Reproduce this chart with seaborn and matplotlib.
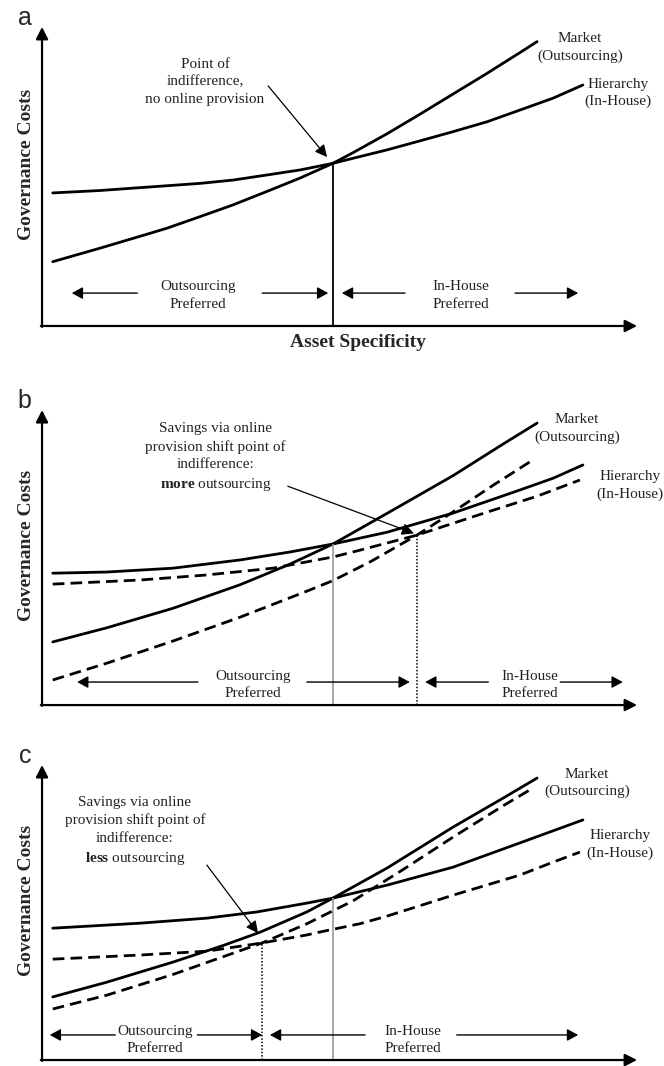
import numpy as np
import pandas as pd
import seaborn as sns
import matplotlib.pyplot as plt

sns.set_style("white")
plt.rcParams['font.family'] = ['Liberation Serif', 'DejaVu Serif']
plt.rcParams['mathtext.fontset'] = 'custom'
plt.rcParams['mathtext.rm'] = 'Liberation Serif'
plt.rcParams['mathtext.bf'] = 'Liberation Serif:bold'

# curve points (x = asset specificity, y = governance costs, 0-10 scale)
a_hier_x = [0.18, 0.97, 1.53, 2.10, 2.66, 3.21, 3.78, 4.34, 4.89, 5.23, 5.80, 6.35, 6.91, 7.48, 8.03, 8.59, 9.09]
a_hier_y = [4.45, 4.53, 4.61, 4.69, 4.77, 4.88, 5.05, 5.22, 5.44, 5.61, 5.89, 6.19, 6.50, 6.83, 7.22, 7.62, 8.06]
a_mkt_x = [0.18, 0.97, 1.53, 2.10, 2.66, 3.21, 3.78, 4.34, 4.89, 5.23, 5.80, 6.35, 6.91, 7.48, 7.75, 8.03, 8.32]
a_mkt_y = [2.15, 2.60, 2.93, 3.27, 3.66, 4.05, 4.50, 4.95, 5.44, 5.80, 6.43, 7.08, 7.76, 8.45, 8.79, 9.14, 9.51]

b_hier_x = [0.18, 1.09, 2.20, 3.33, 4.17, 4.89, 5.80, 6.91, 8.03, 8.59, 9.09]
b_hier_y = [4.47, 4.51, 4.64, 4.92, 5.19, 5.46, 5.86, 6.51, 7.29, 7.69, 8.14]
b_mkt_x = [0.18, 1.09, 2.20, 3.33, 4.17, 4.89, 5.80, 6.91, 7.75, 8.32]
b_mkt_y = [2.14, 2.62, 3.28, 4.08, 4.78, 5.46, 6.50, 7.78, 8.85, 9.56]
b_hier_on_x = [0.18, 1.65, 2.77, 3.88, 4.89, 5.34, 6.30, 7.48, 8.32, 9.04]
b_hier_on_y = [4.10, 4.24, 4.41, 4.64, 5.02, 5.25, 5.76, 6.54, 7.08, 7.63]
b_mkt_on_x = [0.18, 1.09, 2.20, 3.33, 4.45, 4.89, 5.51, 6.30, 6.91, 7.58, 8.25]
b_mkt_on_y = [0.85, 1.42, 2.17, 2.98, 3.86, 4.22, 4.85, 5.76, 6.55, 7.45, 8.31]

c_hier_x = [0.18, 1.65, 2.77, 3.61, 4.45, 4.89, 5.80, 6.91, 8.03, 9.09]
c_hier_y = [4.47, 4.64, 4.81, 5.02, 5.32, 5.49, 5.93, 6.54, 7.36, 8.14]
c_mkt_x = [0.18, 1.09, 2.20, 3.04, 3.66, 4.45, 4.89, 5.80, 6.91, 7.75, 8.32]
c_mkt_y = [2.14, 2.64, 3.32, 3.88, 4.33, 5.02, 5.49, 6.51, 7.90, 8.88, 9.56]
c_hier_on_x = [0.18, 1.65, 2.77, 3.70, 4.45, 4.67, 5.34, 5.80, 6.91, 8.03, 8.59, 9.04]
c_hier_on_y = [3.42, 3.56, 3.69, 3.97, 4.24, 4.34, 4.62, 4.88, 5.59, 6.27, 6.71, 7.05]
c_mkt_on_x = [0.18, 1.09, 2.20, 3.11, 3.70, 4.45, 5.23, 6.07, 6.91, 7.75, 8.25]
c_mkt_on_y = [1.73, 2.20, 2.90, 3.55, 3.97, 4.62, 5.40, 6.46, 7.56, 8.62, 9.22]

# indifference points (x, y)
a_point = (4.89, 5.44)
b_base = (4.89, 5.46)
b_point = (6.30, 5.76)
c_base = (4.89, 5.49)
c_point = (3.70, 3.97)

y_label = "Governance Costs"
x_label = "Asset Specificity"
market_label = "Market\n(Outsourcing)"
hier_label = "Hierarchy\n(In-House)"
out_label = "Outsourcing\nPreferred"
in_label = "In-House\nPreferred"
a_note = "Point of\nindifference,\nno online provision"
b_note = "Savings via online\nprovision shift point of\nindifference:\n$\\mathbf{more}$ outsourcing"
c_note = "Savings via online\nprovision shift point of\nindifference:\n$\\mathbf{less}$ outsourcing"

txt_color = '#222222'
fs = 11
ls = 1.42

fig = plt.figure(figsize=(6.64, 10.66), dpi=100)
ax_a = fig.add_axes([0.0633, 0.6942, 0.8961, 0.2805])
ax_b = fig.add_axes([0.0633, 0.3386, 0.8961, 0.2767])
ax_c = fig.add_axes([0.0633, 0.0056, 0.8961, 0.2767])


def draw_curves(ax, curves):
    frames = []
    for name, xs, ys, kind in curves:
        frames.append(pd.DataFrame({'x': xs, 'y': ys, 'curve': name, 'kind': kind}))
    df = pd.concat(frames, ignore_index=True)
    sns.lineplot(data=df, x='x', y='y', units='curve', style='kind', estimator=None,
                 sort=False, color='black', linewidth=2,
                 dashes={'current': '', 'online': (4.2, 2.2)}, legend=False, ax=ax)


def setup(ax, letter):
    ax.set_xlim(0, 10)
    ax.set_ylim(0, 10)
    ax.axis('off')
    axis_arrow = dict(arrowstyle='-|>,head_length=0.55,head_width=0.28', lw=1.6,
                      color='black', shrinkA=0, shrinkB=0, mutation_scale=13)
    ax.annotate('', xy=(10, 0), xytext=(-0.02, 0), arrowprops=axis_arrow, annotation_clip=False)
    ax.annotate('', xy=(0, 10), xytext=(0, -0.03), arrowprops=axis_arrow, annotation_clip=False)
    ax.text(-0.29, 10.3, letter, family='Liberation Sans', fontsize=18, ha='center', va='center')
    ax.text(-0.26, 5.4, y_label, rotation=90, fontsize=14, fontweight='bold', ha='center', va='center')


def note(ax, x, y, s):
    ax.text(x, y, s, fontsize=fs, ha='center', va='center', multialignment='center',
            linespacing=ls, color=txt_color)


def pref_arrows(ax, y, segs):
    for x0, x1 in segs:
        ax.annotate('', xy=(x1, y), xytext=(x0, y),
                    arrowprops=dict(arrowstyle='-|>,head_length=0.55,head_width=0.3', lw=1,
                                    color='black', shrinkA=0, shrinkB=0, mutation_scale=12))


note_arrow = dict(arrowstyle='-|>,head_length=0.6,head_width=0.3', lw=0.9, color='black',
                  shrinkA=0, shrinkB=0, mutation_scale=12)

# ---- panel a
setup(ax_a, 'a')
draw_curves(ax_a, [('hier', a_hier_x, a_hier_y, 'current'),
                   ('mkt', a_mkt_x, a_mkt_y, 'current')])
ax_a.vlines(a_point[0], 0, a_point[1], color='black', lw=1.3)
note(ax_a, 9.04, 9.30, market_label)
note(ax_a, 9.68, 7.79, hier_label)
note(ax_a, 2.74, 8.16, a_note)
ax_a.annotate('', xy=(4.79, 5.65), xytext=(3.80, 8.03), arrowprops=note_arrow)
pref_arrows(ax_a, 1.10, [(1.60, 0.50), (3.70, 4.81), (6.10, 5.04), (7.95, 9.01)])
note(ax_a, 2.62, 1.02, out_label)
note(ax_a, 7.04, 1.02, in_label)
ax_a.text(5.31, -0.54, x_label, fontsize=14, fontweight='bold', ha='center', va='center')

# ---- panel b
setup(ax_b, 'b')
draw_curves(ax_b, [('hier', b_hier_x, b_hier_y, 'current'),
                   ('mkt', b_mkt_x, b_mkt_y, 'current'),
                   ('hier_on', b_hier_on_x, b_hier_on_y, 'online'),
                   ('mkt_on', b_mkt_on_x, b_mkt_on_y, 'online')])
ax_b.vlines(b_base[0], 0, b_base[1], color='#999999', lw=1.2)
ax_b.vlines(b_point[0], 0, b_point[1], color='black', lw=1.1, linestyles=(0, (1, 1.2)))
note(ax_b, 8.99, 9.37, market_label)
note(ax_b, 9.88, 7.44, hier_label)
note(ax_b, 2.91, 8.39, b_note)
ax_b.annotate('', xy=(6.25, 5.82), xytext=(4.13, 7.42), arrowprops=note_arrow)
pref_arrows(ax_b, 0.78, [(2.62, 0.59), (4.45, 6.18), (7.50, 6.44), (8.71, 9.76)])
note(ax_b, 3.55, 0.68, out_label)
note(ax_b, 8.20, 0.68, in_label)

# ---- panel c
setup(ax_c, 'c')
draw_curves(ax_c, [('hier', c_hier_x, c_hier_y, 'current'),
                   ('mkt', c_mkt_x, c_mkt_y, 'current'),
                   ('hier_on', c_hier_on_x, c_hier_on_y, 'online'),
                   ('mkt_on', c_mkt_on_x, c_mkt_on_y, 'online')])
ax_c.vlines(c_base[0], 0, c_base[1], color='#999999', lw=1.2)
ax_c.vlines(c_point[0], 0, c_point[1], color='black', lw=1.1, linestyles=(0, (1, 1.2)))
note(ax_c, 9.16, 9.39, market_label)
note(ax_c, 9.71, 7.32, hier_label)
note(ax_c, 1.56, 7.75, c_note)
ax_c.annotate('', xy=(3.63, 4.30), xytext=(2.77, 6.61), arrowprops=note_arrow)
pref_arrows(ax_c, 0.85, [(1.23, 0.13), (2.61, 3.70), (5.43, 3.83), (6.97, 9.01)])
note(ax_c, 1.90, 0.69, out_label)
note(ax_c, 6.24, 0.69, in_label)

fig.savefig('out.png', dpi=100)
